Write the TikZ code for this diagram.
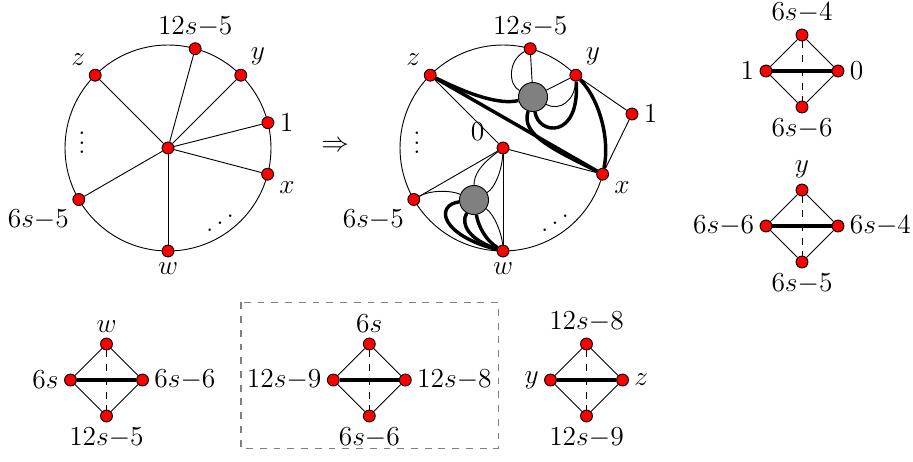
\documentclass[tikz,border=0pt]{standalone}
\usepackage{graphicx}
\usetikzlibrary{backgrounds}
\tikzset{
  vtx/.style={circle, draw, fill=red, inner sep=0pt, minimum size=5.2pt},
  blob/.style={circle, draw, fill=gray, inner sep=0pt, minimum size=12.7pt},
  heavy/.style={line width=1.5pt},
  every label/.style={inner sep=2.2pt},
}
\begin{document}
\begin{tikzpicture}[x=0.4367pt, y=0.4367pt, font=\fontsize{11.5}{13.8}\selectfont]
  \useasboundingbox (0,0) rectangle (913,-461);
  \coordinate (lc) at (168,-148);
  \coordinate (mc) at (503,-148);
  \draw (lc) circle (103);
  \draw (mc) circle (103);
  \node[vtx] (lh) at (lc) {};
  \node[vtx, label=above left:$z$] (lz) at (95.2,-75.2) {};
  \node[vtx, label=above:$12s{-}5$] (lt) at (195.2,-48.7) {};
  \node[vtx, label=above right:$y$] (ly) at (240.8,-75.2) {};
  \node[vtx, label=right:$1$] (lone) at (267.9,-122.7) {};
  \node[vtx, label=-15:$x$] (lx) at (267.6,-174.2) {};
  \node[vtx, label=below:$w$] (lw) at (168,-251) {};
  \node[vtx, label=below left:$6s{-}5$] (lf) at (78.8,-199.5) {};
  \node (lvd) at (82,-136) {$\vdots$};
  \node (ldd) at (220,-216) {\reflectbox{$\ddots$}};
  \begin{scope}[on background layer]
    \foreach \n in {lz,lt,ly,lone,lx,lw,lf}{%
      \draw (lh) -- (\n);
    }
  \end{scope}
  \node (arr) at (335,-146) {$\Rightarrow$};
  \node[vtx, label={[label distance=3pt]170:$0$}] (m0) at (mc) {};
  \node[vtx, label=above left:$z$] (mz) at (430.2,-75.2) {};
  \node[vtx, label=above:$12s{-}5$] (mt) at (530.2,-48.7) {};
  \node[vtx, label=above right:$y$] (my) at (575.8,-75.2) {};
  \node[vtx, label=right:$1$] (mone) at (632,-114) {};
  \node[vtx, label=-15:$x$] (mx) at (602.6,-174.2) {};
  \node[vtx, label=below:$w$] (mw) at (503,-251) {};
  \node[vtx, label=below left:$6s{-}5$] (mf) at (413.8,-199.5) {};
  \node[blob] (g1) at (533,-97) {};
  \node[blob] (g2) at (474,-200) {};
  \node (mvd) at (417,-136) {$\vdots$};
  \node (mdd) at (555,-216) {\reflectbox{$\ddots$}};
  \begin{scope}[on background layer]
    \draw (mt) -- (g1);
    \draw (mt) .. controls (508,-60) and (508,-85) .. (g1);
    \draw (my) -- (g1);
    \draw (my) .. controls (575,-100) and (560,-112) .. (g1);
    \draw (my) -- (mone) -- (mx);
    \draw (mz) -- (m0) -- (mx);
    \draw[heavy] (g1) .. controls (538,-135) and (580,-140) .. (my);
    \draw[heavy] (g1) .. controls (520,-135) and (555,-150) .. (mx);
    \draw[heavy] (mz) .. controls (470,-95) and (500,-105) .. (g1);
    \draw[heavy] (mz) -- (mx);
    \draw[heavy] (my) .. controls (600,-100) and (610,-140) .. (mx);
    \draw (m0) -- (mf);
    \draw (m0) -- (mw);
    \draw (m0) .. controls (480,-165) and (474,-175) .. (g2);
    \draw (m0) .. controls (502,-170) and (495,-188) .. (g2);
    \draw (mf) .. controls (430,-190) and (450,-190) .. (g2);
    \draw (g2) .. controls (495,-215) and (502,-235) .. (mw);
    \draw[heavy] (g2) .. controls (435,-205) and (440,-235) .. (mw);
    \draw[heavy] (g2) .. controls (460,-225) and (470,-240) .. (mw);
    \draw[heavy] (g2) .. controls (478,-225) and (485,-240) .. (mw);
  \end{scope}
  \foreach \cx/\cy/\n/\nt/\nl/\nr/\nb in {106.5/-380/a/w/6s/6s{-}6/12s{-}5, 369.3/-380/b/6s/12s{-}9/12s{-}8/6s{-}6, 586.5/-380/c/12s{-}8/y/z/12s{-}9, 802/-71/d/6s{-}4/1/0/6s{-}6, 802/-226/e/y/6s{-}6/6s{-}4/6s{-}5}{%
    \node[vtx, label=above:$\nt$] (\n-t) at (\cx,\cy+36) {};
    \node[vtx, label=left:$\nl$] (\n-l) at (\cx-36,\cy) {};
    \node[vtx, label=right:$\nr$] (\n-r) at (\cx+36,\cy) {};
    \node[vtx, label=below:$\nb$] (\n-b) at (\cx,\cy-36) {};
    \begin{scope}[on background layer]
      \draw (\n-t) -- (\n-l) -- (\n-b) -- (\n-r) -- (\n-t);
      \draw[dashed] (\n-t) -- (\n-b);
      \draw[heavy] (\n-l) -- (\n-r);
    \end{scope}
  }
  \draw[gray, dashed, line width=0.6pt] (241,-302.3) rectangle (498.3,-448.3);
\end{tikzpicture}
\end{document}
